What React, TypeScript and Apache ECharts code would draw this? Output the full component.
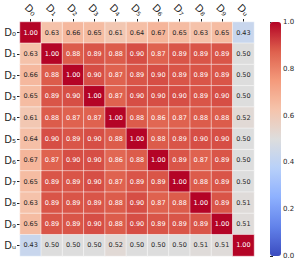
import React, { useEffect, useRef } from "react";
import * as echarts from "echarts";

const categories = ["D₀", "D₁", "D₂", "D₃", "D₄", "D₅", "D₆", "D₇", "D₈", "D₉", "Dᵤ"];

const rowD0 = [1.0, 0.63, 0.66, 0.65, 0.61, 0.64, 0.67, 0.65, 0.63, 0.65, 0.43];
const rowD1 = [0.63, 1.0, 0.88, 0.89, 0.88, 0.9, 0.87, 0.89, 0.89, 0.89, 0.5];
const rowD2 = [0.66, 0.88, 1.0, 0.9, 0.87, 0.89, 0.9, 0.89, 0.89, 0.89, 0.5];
const rowD3 = [0.65, 0.89, 0.9, 1.0, 0.87, 0.9, 0.9, 0.9, 0.89, 0.9, 0.5];
const rowD4 = [0.61, 0.88, 0.87, 0.87, 1.0, 0.88, 0.86, 0.87, 0.88, 0.88, 0.52];
const rowD5 = [0.64, 0.9, 0.89, 0.9, 0.88, 1.0, 0.88, 0.89, 0.9, 0.9, 0.5];
const rowD6 = [0.67, 0.87, 0.9, 0.9, 0.86, 0.88, 1.0, 0.89, 0.87, 0.89, 0.5];
const rowD7 = [0.65, 0.89, 0.89, 0.9, 0.87, 0.89, 0.89, 1.0, 0.88, 0.89, 0.5];
const rowD8 = [0.63, 0.89, 0.89, 0.89, 0.88, 0.9, 0.87, 0.88, 1.0, 0.89, 0.51];
const rowD9 = [0.65, 0.89, 0.89, 0.9, 0.88, 0.9, 0.89, 0.89, 0.89, 1.0, 0.51];
const rowDu = [0.43, 0.5, 0.5, 0.5, 0.52, 0.5, 0.5, 0.5, 0.51, 0.51, 1.0];

const matrix = [rowD0, rowD1, rowD2, rowD3, rowD4, rowD5, rowD6, rowD7, rowD8, rowD9, rowDu];

const colorbarTicks = [0, 0.2, 0.4, 0.6, 0.8, 1.0];

const coolwarm = [
  "#3b4cc0",
  "#6282ea",
  "#8db0fe",
  "#b8d0f9",
  "#dddddd",
  "#f5c4ac",
  "#f49a7b",
  "#de604d",
  "#b40426",
];

export default function App() {
  const ref = useRef<HTMLDivElement>(null);
  useEffect(() => {
    const chart = echarts.init(ref.current!, null, { renderer: "svg" });
    const data: any[] = [];
    matrix.forEach((row, i) => {
      row.forEach((v, j) => {
        data.push({
          value: [j, i, v],
          label: { color: v > 0.75 ? "#ffffff" : "#262626" },
        });
      });
    });
    const font = "DejaVu Sans";
    chart.setOption({
      animation: false,
      backgroundColor: "#ffffff",
      textStyle: { fontFamily: font },
      grid: [
        { left: 20, top: 22, width: 234, height: 234 },
        { left: 270, top: 22, width: 11, height: 234 },
      ],
      xAxis: [
        {
          type: "category",
          data: categories,
          position: "top",
          gridIndex: 0,
          axisLine: { show: false },
          axisTick: { show: true, length: 3, alignWithLabel: true, lineStyle: { color: "#262626" } },
          axisLabel: {
            rotate: 45,
            interval: 0,
            align: "center",
            verticalAlign: "middle",
            fontSize: 10,
            color: "#262626",
            fontFamily: font,
            margin: 12,
          },
          splitLine: { show: false },
        },
        {
          type: "value",
          gridIndex: 1,
          show: false,
          min: 0,
          max: 1,
        },
      ],
      yAxis: [
        {
          type: "category",
          data: categories,
          inverse: true,
          gridIndex: 0,
          axisLine: { show: false },
          axisTick: { show: true, length: 3, alignWithLabel: true, lineStyle: { color: "#262626" } },
          axisLabel: { interval: 0, fontSize: 10, color: "#262626", fontFamily: font, margin: 4 },
          splitLine: { show: false },
        },
        {
          type: "value",
          gridIndex: 1,
          position: "right",
          min: 0,
          max: 1,
          interval: 0.2,
          axisLine: { show: false },
          axisTick: { show: true, length: 3, lineStyle: { color: "#262626" } },
          axisLabel: {
            fontSize: 7,
            color: "#262626",
            fontFamily: font,
            margin: 2,
            formatter: (v: number) => (colorbarTicks.some((t) => Math.abs(t - v) < 1e-6) ? v.toFixed(1) : ""),
          },
          splitLine: { show: false },
        },
      ],
      visualMap: {
        type: "continuous",
        min: 0,
        max: 1,
        seriesIndex: 0,
        dimension: 2,
        calculable: false,
        orient: "vertical",
        left: 270,
        top: 22,
        padding: 0,
        itemWidth: 11,
        itemHeight: 234,
        text: null,
        showLabel: false,
        inRange: { color: coolwarm },
      },
      series: [
        {
          type: "heatmap",
          xAxisIndex: 0,
          yAxisIndex: 0,
          data,
          itemStyle: { borderColor: "#ffffff", borderWidth: 0.5 },
          label: {
            show: true,
            fontSize: 6.5,
            fontFamily: font,
            formatter: (p: any) => p.value[2].toFixed(2),
          },
          emphasis: { disabled: true },
        },
        {
          type: "line",
          xAxisIndex: 1,
          yAxisIndex: 1,
          data: [],
          silent: true,
        },
      ],
    });
    return () => chart.dispose();
  }, []);
  return (
    <div
      ref={ref}
      style={{ position: "fixed", left: 0, top: 0, width: 299, height: 264 }}
    />
  );
}
